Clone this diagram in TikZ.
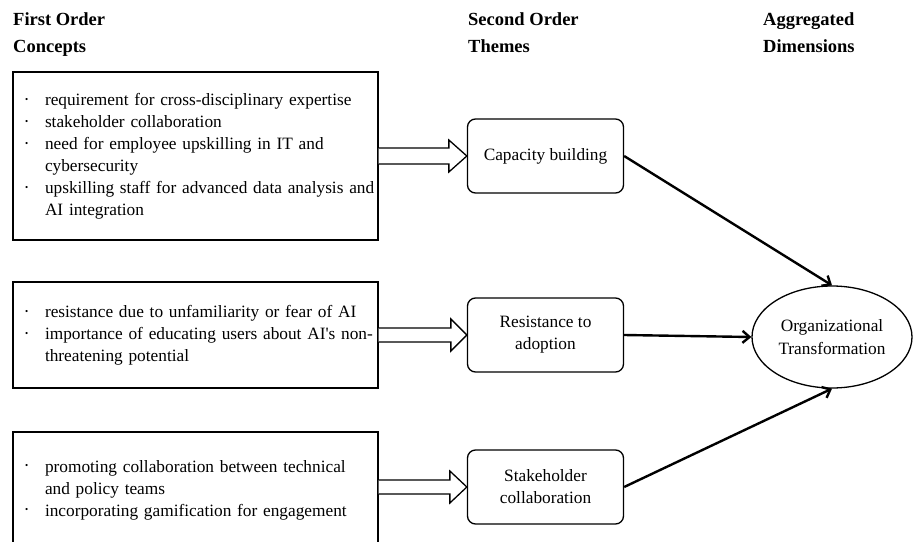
\documentclass[tikz,border=0pt]{standalone}
\usepackage{fontspec}
\setmainfont{Liberation Serif}
\usetikzlibrary{shapes.geometric,arrows.meta,calc}
\newcommand\li[1]{\mbox{\hspace*{6pt}\makebox[20pt][l]{\raisebox{3.2pt}{\fontsize{9}{9}\selectfont\textbullet}}#1}}
\newcommand\ct[1]{\mbox{\hspace*{26pt}#1}}
\newcommand\fatarrow[5]{%
  \draw[fat] let \p1=(#1.east), \p2=(#2.west) in
    (\x1,\y2+#3) -- (\x2-#5,\y2+#3) -- (\x2-#5,\y2+#4) -- (\p2)
    -- (\x2-#5,\y2-#4) -- (\x2-#5,\y2-#3) -- (\x1,\y2-#3);}
\begin{document}
\begin{tikzpicture}[x=1pt,y=-1pt,
  hdr/.style={anchor=north west, inner sep=0pt, align=left,
    font=\bfseries\fontsize{18.5}{27}\selectfont},
  concept/.style={draw, line width=1.3pt, minimum width=365pt, text width=353pt,
    inner xsep=6pt, align=left, font=\fontsize{17.3}{22}\selectfont},
  theme/.style={draw, line width=1.3pt, rounded corners=8pt, minimum width=156pt,
    minimum height=74pt, align=center, font=\fontsize{17.3}{22}\selectfont},
  dim/.style={draw, ellipse, line width=1.3pt, minimum width=160pt,
    minimum height=102pt, inner sep=0pt, align=center,
    font=\fontsize{17.3}{23}\selectfont},
  link/.style={line width=2.4pt, -{Straight Barb[length=7pt,width=12pt]}},
  fat/.style={line width=1.3pt, fill=white, line join=miter}
]
\useasboundingbox (0,0) rectangle (913,541);
\clip (0,0) rectangle (913,541);

\node[hdr] (h1) at (13,12.5) {First Order\\Concepts};
\node[hdr] (h2) at (468,12.5) {Second Order\\Themes};
\node[hdr] (h3) at (763,12.5) {Aggregated\\Dimensions};

\node[concept, minimum height=168pt] (A) at (195.5,156) {%
\li{requirement for cross-disciplinary expertise}\\
\li{stakeholder collaboration}\\
\li{need for employee upskilling in IT and}\\
\ct{cybersecurity}\\
\li{upskilling staff for advanced data analysis and}\\
\ct{AI integration}};

\node[concept, minimum height=106pt] (B) at (195.5,335) {%
\li{resistance due to unfamiliarity or fear of AI}\\
\li{importance of educating users about AI\textquotesingle s non-}\\
\ct{threatening potential}};

\node[concept, minimum height=116pt] (C) at (195.5,490) {%
\li{promoting collaboration between technical}\\
\ct{and policy teams}\\
\li{incorporating gamification for engagement}};

\node[theme] (T1) at (545.5,156) {Capacity building};
\node[theme] (T2) at (545.5,335) {Resistance to\\adoption};
\node[theme] (T3) at (545.5,487) {Stakeholder\\collaboration};

\node[dim] (E) at (832,337) {Organizational\\Transformation};

\fatarrow{A}{T1}{8pt}{16pt}{18pt}
\fatarrow{B}{T2}{7pt}{16pt}{16pt}
\fatarrow{C}{T3}{7pt}{16pt}{17pt}

\draw[link] (T1.east) -- (E.north);
\draw[link] (T2.east) -- (E.west);
\draw[link] (T3.east) -- (E.south);
\end{tikzpicture}
\end{document}
